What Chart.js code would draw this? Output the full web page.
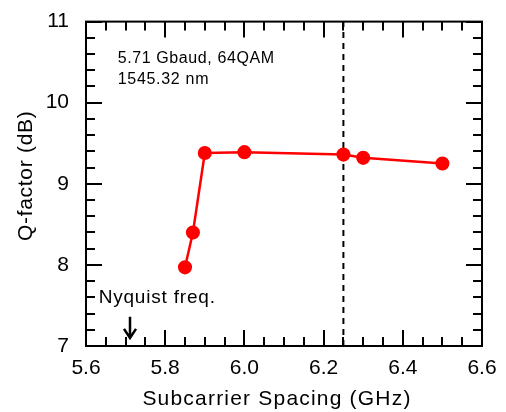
<!DOCTYPE html>
<html>
<head>
<meta charset="utf-8">
<script src="https://cdn.jsdelivr.net/npm/chart.js@4.4.0/dist/chart.umd.min.js"></script>
<style>
  html, body { margin: 0; padding: 0; background: #fff; }
  #wrap { width: 506px; height: 412px; }
</style>
</head>
<body>
<div id="wrap"><canvas id="qfactor"></canvas></div>
<script>
// Q-factor vs subcarrier spacing
var spacing = [5.85, 5.87, 5.90, 6.00, 6.25, 6.30, 6.50];
var qfactor = [7.97, 8.40, 9.38, 9.39, 9.36, 9.32, 9.25];

// dashed marker line at 6.25 GHz
var markerX = [6.25, 6.25];
var markerY = [7, 11];

// nyquist arrow at 5.71 GHz
var nyquistX = 5.71;

var xRange = [5.6, 6.6];
var yRange = [7, 11];

var font = "'Liberation Sans', Arial, sans-serif";

function spacedText(ctx, txt, x, y, size, sp) {
    ctx.font = size + "px " + font;
    ctx.letterSpacing = sp + "px";
    ctx.fillText(txt, x, y);
    ctx.letterSpacing = "0px";
}

// frame, inside ticks on all four sides, titles and notes
var frameTicks = {
    id: "frameTicks",
    afterDatasetsDraw: function (chart) {
        var ctx = chart.ctx;
        var a = chart.chartArea;
        var sx = chart.scales.x;
        var sy = chart.scales.y;
        ctx.save();
        ctx.setLineDash([]);
        ctx.strokeStyle = "#000";
        ctx.lineWidth = 2;
        ctx.strokeRect(a.left, a.top, a.right - a.left, a.bottom - a.top);
        ctx.beginPath();
        var i, v, px, len;
        for (i = 0; i <= 20; i++) {
            v = xRange[0] + i * 0.05;
            px = Math.round(sx.getPixelForValue(v));
            len = i % 4 === 0 ? 16 : 9;
            ctx.moveTo(px, a.bottom);
            ctx.lineTo(px, a.bottom - len);
            ctx.moveTo(px, a.top);
            ctx.lineTo(px, a.top + len);
        }
        for (i = 0; i <= 20; i++) {
            v = yRange[0] + i * 0.2;
            px = Math.round(sy.getPixelForValue(v));
            len = i % 5 === 0 ? 16 : 9;
            ctx.moveTo(a.left, px);
            ctx.lineTo(a.left + len, px);
            ctx.moveTo(a.right, px);
            ctx.lineTo(a.right - len, px);
        }
        ctx.stroke();

        ctx.fillStyle = "#000";
        ctx.textBaseline = "middle";
        ctx.textAlign = "left";
        spacedText(ctx, "5.71 Gbaud, 64QAM", sx.getPixelForValue(5.68), sy.getPixelForValue(10.54), 16, 0.6);
        spacedText(ctx, "1545.32 nm", sx.getPixelForValue(5.68), sy.getPixelForValue(10.29), 16, 0.7);
        spacedText(ctx, "Nyquist freq.", sx.getPixelForValue(5.632), sy.getPixelForValue(7.6), 19, 0.8);

        // axis titles
        ctx.textAlign = "center";
        spacedText(ctx, "Subcarrier Spacing (GHz)", (a.left + a.right) / 2 - 7, 399, 21, 1.2);
        ctx.save();
        ctx.translate(26, (a.top + a.bottom) / 2 - 8);
        ctx.rotate(-Math.PI / 2);
        spacedText(ctx, "Q-factor (dB)", 0, 0, 21, 0.7);
        ctx.restore();

        // arrow
        var ax = Math.round(sx.getPixelForValue(nyquistX));
        var y0 = sy.getPixelForValue(7.36);
        var y1 = sy.getPixelForValue(7.1);
        ctx.lineWidth = 2.5;
        ctx.beginPath();
        ctx.moveTo(ax, y0);
        ctx.lineTo(ax, y1);
        ctx.moveTo(ax - 6, y1 - 9);
        ctx.lineTo(ax, y1);
        ctx.lineTo(ax + 6, y1 - 9);
        ctx.stroke();
        ctx.restore();
    }
};

new Chart(document.getElementById("qfactor"), {
    type: "scatter",
    data: {
        datasets: [
            {
                data: spacing.map(function (x, i) { return { x: x, y: qfactor[i] }; }),
                showLine: true,
                borderColor: "#ff0000",
                backgroundColor: "#ff0000",
                borderWidth: 2.5,
                pointRadius: 5.8,
                pointHoverRadius: 5.8,
                order: 1,
            },
            {
                data: markerX.map(function (x, i) { return { x: x, y: markerY[i] }; }),
                showLine: true,
                borderColor: "#000",
                borderWidth: 2,
                borderDash: [6, 5],
                pointRadius: 0,
                order: 2,
            },
        ],
    },
    options: {
        responsive: true,
        maintainAspectRatio: false,
        animation: false,
        layout: { padding: { top: 16, right: 24, left: 0, bottom: 0 } },
        plugins: { legend: { display: false }, tooltip: { enabled: false } },
        scales: {
            x: {
                type: "linear",
                min: xRange[0],
                max: xRange[1],
                grid: { display: false },
                border: { display: false },
                ticks: {
                    stepSize: 0.2,
                    color: "#000",
                    font: { family: font, size: 21 },
                    padding: 2,
                    maxRotation: 0,
                    callback: function (v) { return v.toFixed(1); },
                },
                afterFit: function (s) { s.height = 66; },
            },
            y: {
                type: "linear",
                min: yRange[0],
                max: yRange[1],
                grid: { display: false },
                border: { display: false },
                ticks: {
                    stepSize: 1,
                    color: "#000",
                    font: { family: font, size: 21 },
                    padding: 9,
                },
                afterFit: function (s) { s.width = 86; },
            },
        },
    },
    plugins: [frameTicks],
});
</script>
</body>
</html>
